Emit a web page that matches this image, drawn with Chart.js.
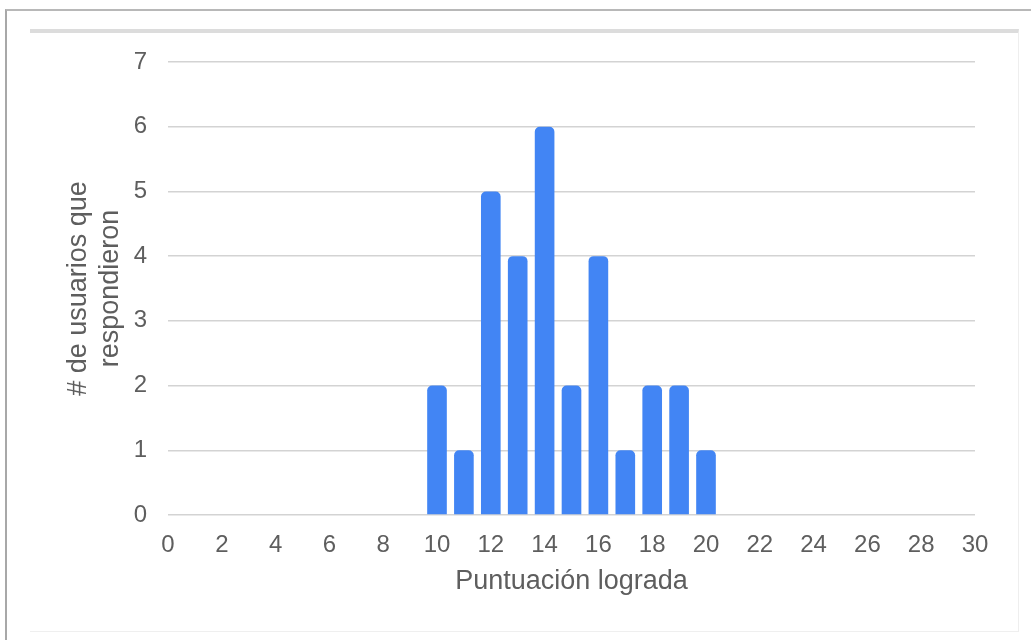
<!DOCTYPE html>
<html>
<head>
<meta charset="utf-8">
<script src="https://cdn.jsdelivr.net/npm/chart.js@4"></script>
<style>
  html, body { margin: 0; padding: 0; background: #fff; }
  #wrap { position: relative; width: 1031px; height: 640px; overflow: hidden; }
  #outer { position: absolute; left: 5px; top: 9px; width: 1040px; height: 640px; border-left: 2px solid #a8a8a8; border-top: 2px solid #b8b8b8; }
  #inner { position: absolute; left: 30px; top: 29px; width: 988px; height: 598px; border-top: 4px solid #dcdcdc; border-right: 1px solid #eeeeee; border-bottom: 1px solid #efefef; }
  canvas { position: absolute; left: 0; top: 0; }
</style>
</head>
<body>
<div id="wrap">
  <div id="outer"></div>
  <div id="inner"></div>
  <canvas id="c" width="1031" height="640"></canvas>
</div>
<script>
const scores = [10, 11, 12, 13, 14, 15, 16, 17, 18, 19, 20];
const counts = [2, 1, 5, 4, 6, 2, 4, 1, 2, 2, 1];
const xTitle = 'Puntuación lograda';
const yTitle = ['# de usuarios que', 'respondieron'];

const textColor = '#5e5e5e';
const fontFamily = '"Liberation Sans", Arial, sans-serif';

new Chart(document.getElementById('c'), {
  type: 'bar',
  data: {
    datasets: [{
      data: scores.map((s, i) => ({ x: s, y: counts[i] })),
      backgroundColor: '#4285f4',
      borderRadius: { topLeft: 5, topRight: 5, bottomLeft: 0, bottomRight: 0 },
      borderSkipped: 'start',
      barPercentage: 0.73,
      categoryPercentage: 1
    }]
  },
  options: {
    responsive: false,
    animation: false,
    layout: { padding: { left: 52, right: 56, top: 62, bottom: 36 } },
    plugins: { legend: { display: false }, tooltip: { enabled: false } },
    scales: {
      x: {
        type: 'linear',
        min: 0, max: 30,
        offset: false,
        grid: { display: false, offset: false, drawTicks: false },
        border: { display: false },
        ticks: { stepSize: 2, padding: 16, color: textColor, font: { family: fontFamily, size: 24 } },
        title: { display: true, text: xTitle, color: textColor, padding: { top: 0, bottom: 6 }, font: { family: fontFamily, size: 27 } },
        afterFit: s => { s.height = 89; }
      },
      y: {
        min: 0, max: 7,
        grid: { color: '#d3d3d3', lineWidth: 1.5, drawTicks: false },
        border: { display: false },
        ticks: { stepSize: 1, padding: 21, color: textColor, font: { family: fontFamily, size: 24 } },
        title: { display: true, text: yTitle, color: textColor, padding: { top: 10, bottom: 0 }, font: { family: fontFamily, size: 27, lineHeight: 1.2 } },
        afterFit: s => { s.width = 116; }
      }
    }
  }
});
</script>
</body>
</html>
